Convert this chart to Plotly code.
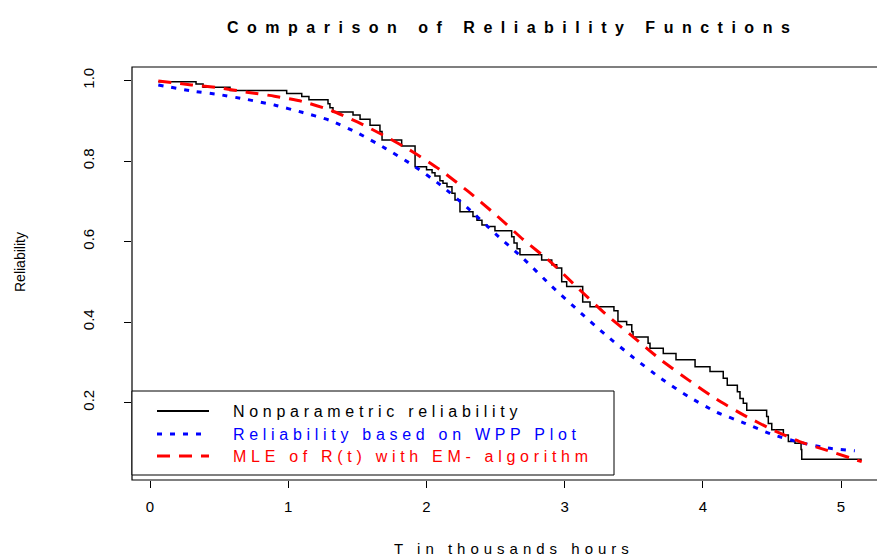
import plotly.graph_objects as go

# ---- data ----
km_time = [0.06, 0.333, 0.384, 0.579, 0.989, 1.098, 1.150, 1.288, 1.302, 1.324, 1.469, 1.520,
           1.592, 1.664, 1.679, 1.821, 1.918, 2.001, 2.041, 2.062, 2.098, 2.120, 2.149, 2.185,
           2.207, 2.243, 2.337, 2.366, 2.402, 2.438, 2.496, 2.617, 2.634, 2.656, 2.677, 2.834,
           2.907, 2.943, 2.979, 3.015, 3.131, 3.184, 3.357, 3.386, 3.449, 3.486, 3.495, 3.604,
           3.618, 3.714, 3.806, 3.944, 4.052, 4.148, 4.177, 4.250, 4.269, 4.293, 4.318, 4.462,
           4.474, 4.499, 4.583, 4.619, 4.667, 4.711, 4.716, 5.150]
km_surv = [0.997, 0.991, 0.983, 0.975, 0.968, 0.960, 0.952, 0.942, 0.932, 0.922, 0.914, 0.904,
           0.889, 0.873, 0.852, 0.837, 0.786, 0.778, 0.771, 0.763, 0.751, 0.745, 0.736, 0.720,
           0.703, 0.674, 0.662, 0.653, 0.641, 0.637, 0.627, 0.612, 0.596, 0.582, 0.567, 0.554,
           0.542, 0.534, 0.500, 0.488, 0.450, 0.438, 0.428, 0.401, 0.393, 0.376, 0.363, 0.347,
           0.335, 0.322, 0.306, 0.289, 0.277, 0.260, 0.243, 0.227, 0.210, 0.198, 0.181, 0.165,
           0.148, 0.132, 0.119, 0.103, 0.099, 0.083, 0.059, 0.059]

wpp_time = [0.06, 0.3, 0.5, 0.7, 0.9, 1.1, 1.3, 1.5, 1.7, 1.9, 2.1, 2.3, 2.5, 2.7, 2.9,
            3.1, 3.3, 3.5, 3.7, 3.9, 4.1, 4.3, 4.5, 4.7, 4.9, 5.1]
wpp_rel = [0.989, 0.974, 0.965, 0.953, 0.939, 0.921, 0.901, 0.870, 0.832, 0.790, 0.741, 0.683,
           0.619, 0.558, 0.491, 0.428, 0.367, 0.311, 0.259, 0.214, 0.176, 0.149, 0.121, 0.101,
           0.087, 0.080]

mle_time = [0.06, 0.3, 0.5, 0.7, 0.9, 1.1, 1.3, 1.5, 1.7, 1.9, 2.1, 2.3, 2.5, 2.7, 2.9,
            3.1, 3.3, 3.5, 3.7, 3.9, 4.1, 4.3, 4.5, 4.7, 4.9, 5.15]
mle_rel = [0.999, 0.989, 0.982, 0.971, 0.961, 0.948, 0.927, 0.897, 0.862, 0.823, 0.778, 0.725,
           0.667, 0.605, 0.549, 0.483, 0.419, 0.362, 0.305, 0.255, 0.208, 0.168, 0.133, 0.103,
           0.081, 0.053]

x_ticks = [0, 1, 2, 3, 4, 5]
y_ticks = [0.2, 0.4, 0.6, 0.8, 1.0]
legend_labels = ["Nonparametric reliability", "Reliability based on WPP Plot",
                 "MLE of R(t) with EM- algorithm"]
legend_colors = ["black", "blue", "red"]
legend_dash = ["solid", "5px,8px", "13px,9px"]

FONT = "Liberation Sans, Arial, Helvetica, sans-serif"

fig = go.Figure()
fig.add_trace(go.Scatter(x=km_time, y=km_surv, mode="lines", line=dict(shape="hv", color="black", width=1.5),
                         name=legend_labels[0], showlegend=False))
fig.add_trace(go.Scatter(x=wpp_time, y=wpp_rel, mode="lines", line=dict(shape="spline", smoothing=0.6, color="blue", width=3, dash=legend_dash[1]),
                         name=legend_labels[1], showlegend=False))
fig.add_trace(go.Scatter(x=mle_time, y=mle_rel, mode="lines", line=dict(shape="spline", smoothing=0.6, color="red", width=3, dash=legend_dash[2]),
                         name=legend_labels[2], showlegend=False))

W, H = 877, 557
L, R, T, B = 132, 0, 67, 77
pw, ph = W - L - R, H - T - B

def px(xp):
    return (xp - L) / pw

def py(yp):
    return (H - B - yp) / ph

shapes = []
# plot box (right edge cropped like the reference)
shapes.append(dict(type="rect", xref="paper", yref="paper", x0=0, x1=1.02, y0=0, y1=1,
                   line=dict(color="black", width=1.2)))
# legend box
shapes.append(dict(type="rect", xref="paper", yref="paper", x0=0, x1=px(614), y0=py(475), y1=py(391),
                   line=dict(color="black", width=1), fillcolor="white", layer="above"))
annotations = []
rows = [411, 434, 456]
for lab, col, dsh, yy in zip(legend_labels, legend_colors, legend_dash, rows):
    shapes.append(dict(type="line", xref="paper", yref="paper", x0=px(157), x1=px(209), y0=py(yy), y1=py(yy),
                       line=dict(color=col, width=3 if col != "black" else 2, dash=dsh), layer="above"))
    annotations.append(dict(xref="paper", yref="paper", x=px(231), y=py(yy), xanchor="left", yanchor="middle",
                            text='<span style="letter-spacing:4.7px">' + lab + '</span>', showarrow=False,
                            font=dict(family=FONT, size=16, color=col)))

# title
annotations.append(dict(xref="paper", yref="paper", x=px(512), y=py(28), xanchor="center", yanchor="middle",
                        text='<span style="letter-spacing:8.5px"><b>Comparison of Reliability Functions</b></span>',
                        showarrow=False, font=dict(family=FONT, size=16, color="black")))
# x axis title
annotations.append(dict(xref="paper", yref="paper", x=px(514), y=py(548), xanchor="center", yanchor="middle",
                        text='<span style="letter-spacing:5px">T in thousands hours</span>',
                        showarrow=False, font=dict(family=FONT, size=15, color="black")))
# y axis title
annotations.append(dict(xref="paper", yref="paper", x=px(20), y=py(262), xanchor="center", yanchor="middle",
                        text="Reliability", textangle=-90,
                        showarrow=False, font=dict(family=FONT, size=14, color="black")))

fig.update_layout(
    width=W, height=H,
    margin=dict(l=L, r=R, t=T, b=B, pad=0),
    paper_bgcolor="white", plot_bgcolor="white",
    showlegend=False,
    shapes=shapes, annotations=annotations,
    xaxis=dict(range=[(L - 150) / 138.2, (W - R - 150) / 138.2], tickvals=x_ticks,
               ticktext=[str(v) for v in x_ticks], ticks="outside", ticklen=7, tickcolor="black",
               showgrid=False, zeroline=False, showline=False,
               tickfont=dict(family=FONT, size=15, color="black"), ticklabelstandoff=6),
    yaxis=dict(range=[1 - (H - B - 80.5) / 402.5, 1 + (80.5 - T) / 402.5], tickvals=y_ticks,
               ticktext=["%.1f" % v for v in y_ticks], ticks="outside", ticklen=7, tickcolor="black",
               tickangle=-90, showgrid=False, zeroline=False, showline=False,
               tickfont=dict(family=FONT, size=15, color="black"), ticklabelstandoff=24),
)

fig.write_html("out.html", config={"displayModeBar": False},
               post_script="document.body.style.margin='0';document.body.style.padding='0';")
